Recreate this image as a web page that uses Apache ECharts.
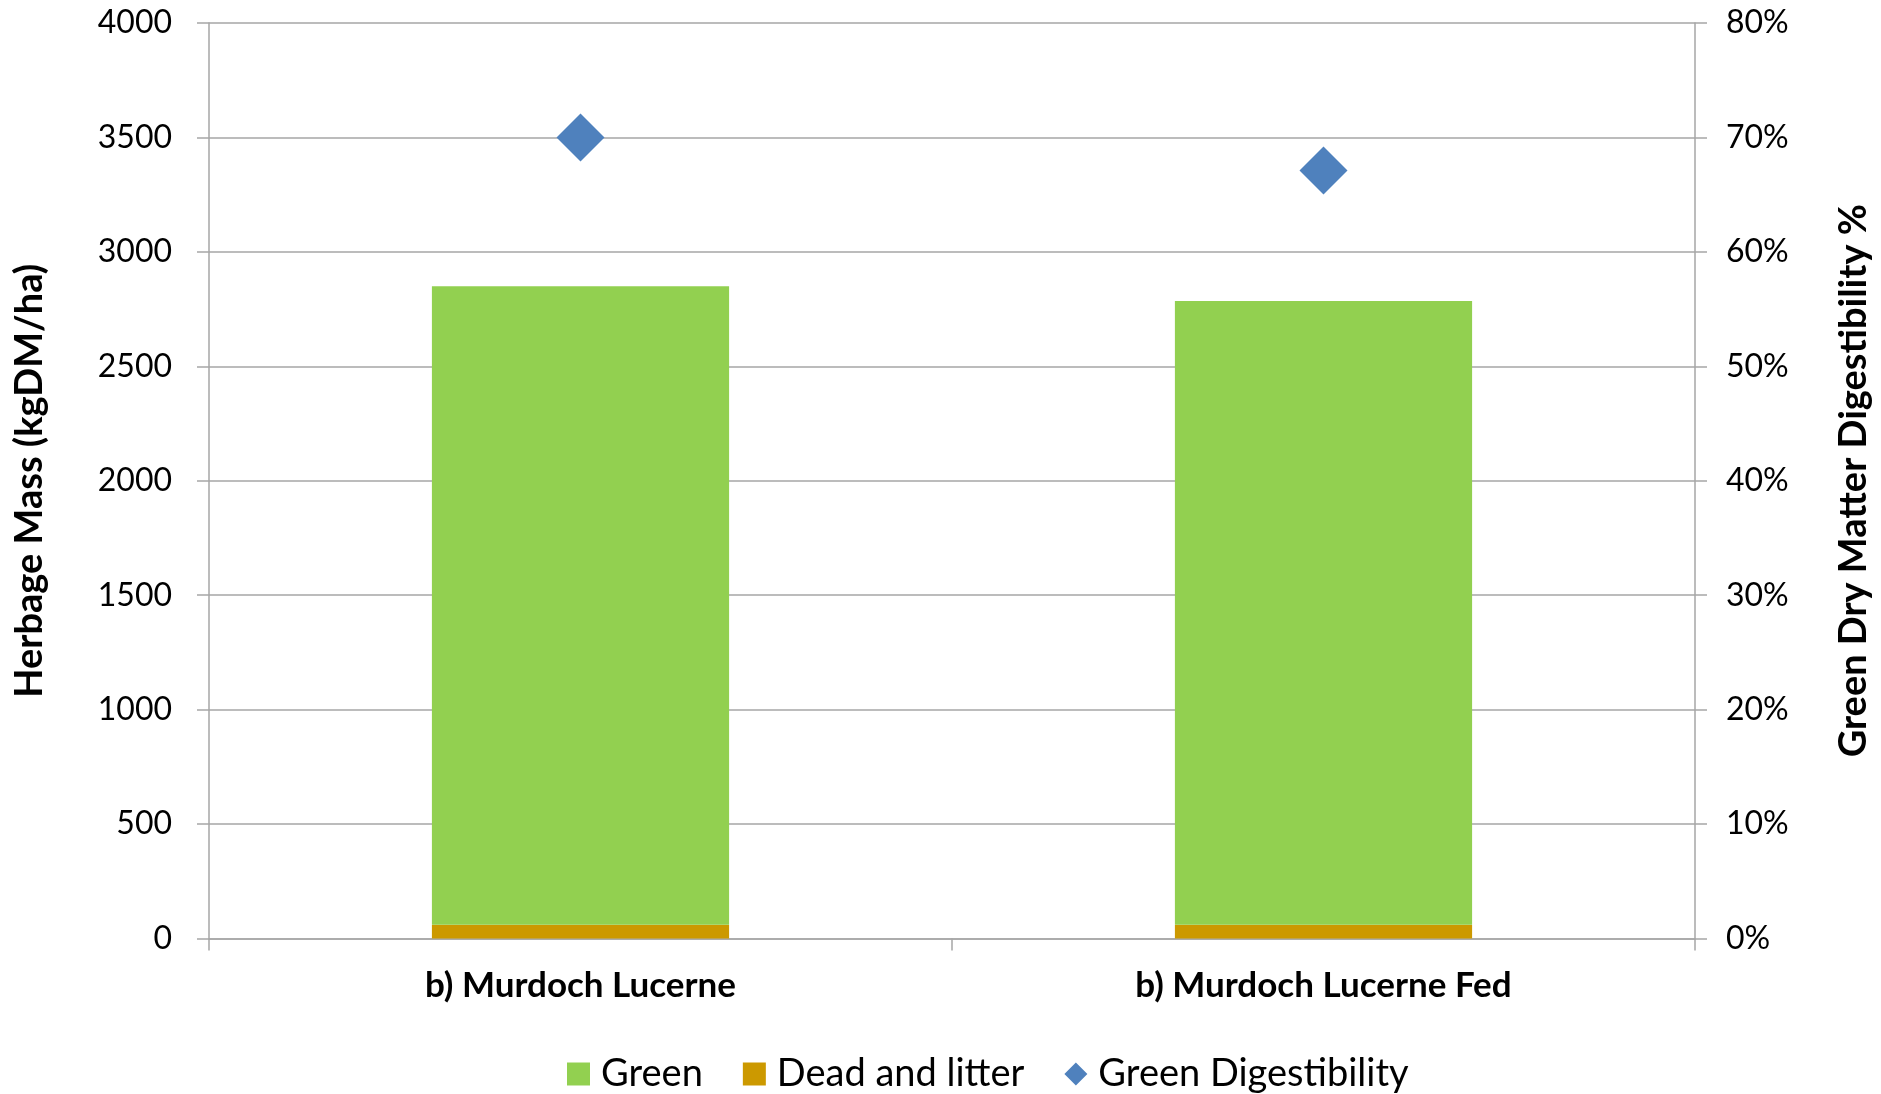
<!DOCTYPE html>
<html>
<head>
<meta charset="utf-8">
<script src="https://cdn.jsdelivr.net/npm/echarts@6/dist/echarts.min.js"></script>
<style>
html,body{margin:0;padding:0;background:#fff;}
#chart{width:1881px;height:1094px;}
</style>
</head>
<body>
<div id="chart"></div>
<script>
var categories = ['b) Murdoch Lucerne', 'b) Murdoch Lucerne Fed'];
var greenValues = [2790, 2725];
var deadValues = [60, 60];
var digestibility = [0.70, 0.671];
var leftTicks = {min: 0, max: 4000, interval: 500};
var rightTicks = {min: 0, max: 0.8, interval: 0.1};

var FONT = 'Lato';
var TXT = '#000000';
var GRID = '#a6a6a6';

var chart = echarts.init(document.getElementById('chart'), null, {renderer: 'canvas'});
chart.setOption({
  backgroundColor: '#ffffff',
  animation: false,
  textStyle: {fontFamily: FONT},
  grid: {left: 209, right: 183, top: 23, bottom: 155.5, containLabel: false},
  legend: {
    left: 562, top: 1050,
    itemWidth: 23, itemHeight: 23, itemGap: 40,
    textStyle: {fontFamily: FONT, fontSize: 38, color: TXT, padding: [0, 0, 0, 6]},
    data: [
      {name: 'Green', icon: 'rect'},
      {name: 'Dead and litter', icon: 'rect'},
      {name: 'Green Digestibility', icon: 'diamond'}
    ]
  },
  xAxis: {
    type: 'category',
    data: categories,
    boundaryGap: true,
    axisLine: {show: true, lineStyle: {color: GRID, width: 1.5}},
    axisTick: {show: true, length: 12, alignWithLabel: false, lineStyle: {color: GRID, width: 1.5}},
    axisLabel: {fontFamily: FONT, fontSize: 35, fontWeight: 'bold', color: TXT, margin: 30}
  },
  yAxis: [
    {
      type: 'value', min: leftTicks.min, max: leftTicks.max, interval: leftTicks.interval,
      name: 'Herbage Mass (kgDM/ha)', nameLocation: 'middle', nameGap: 160, nameRotate: 90,
      nameTextStyle: {fontFamily: FONT, fontSize: 38, fontWeight: 'bold', color: TXT},
      axisLine: {show: true, lineStyle: {color: GRID, width: 1.5}},
      axisTick: {show: true, length: 12, lineStyle: {color: GRID, width: 1.5}},
      axisLabel: {fontFamily: FONT, fontSize: 32, color: TXT, margin: 37,
        formatter: function (v) { return String(v); }},
      splitLine: {show: true, lineStyle: {color: GRID, width: 1.5}}
    },
    {
      type: 'value', position: 'right', min: rightTicks.min, max: rightTicks.max, interval: rightTicks.interval,
      name: 'Green Dry Matter Digestibility %', nameLocation: 'middle', nameGap: 140, nameRotate: 90,
      nameTextStyle: {fontFamily: FONT, fontSize: 38, fontWeight: 'bold', color: TXT},
      axisLine: {show: true, lineStyle: {color: GRID, width: 1.5}},
      axisTick: {show: true, length: 12, lineStyle: {color: GRID, width: 1.5}},
      axisLabel: {fontFamily: FONT, fontSize: 32, color: TXT, margin: 31,
        formatter: function (v) { return Math.round(v * 100) + '%'; }},
      splitLine: {show: false}
    }
  ],
  series: [
    {
      name: 'Dead and litter', type: 'bar', stack: 'mass', barWidth: '40%',
      itemStyle: {color: '#CC9900'}, data: deadValues
    },
    {
      name: 'Green', type: 'bar', stack: 'mass', barWidth: '40%',
      itemStyle: {color: '#92D050'}, data: greenValues
    },
    {
      name: 'Green Digestibility', type: 'scatter', yAxisIndex: 1,
      symbol: 'diamond', symbolSize: 48,
      itemStyle: {color: '#4F81BD', opacity: 1}, data: digestibility, z: 5
    }
  ]
});
</script>
</body>
</html>
